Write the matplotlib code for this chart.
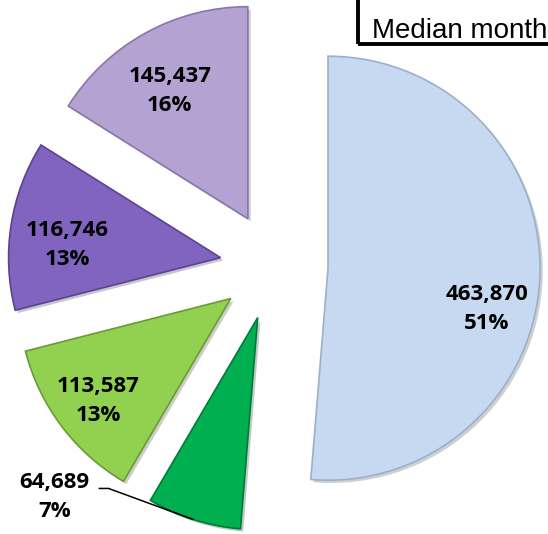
import numpy as np
import matplotlib
matplotlib.use('Agg')
import matplotlib.pyplot as plt
import matplotlib.patheffects as pe
from matplotlib.patches import Rectangle

# data
values = [463870, 64689, 113587, 116746, 145437]
colors = ['#C6D9F1', '#00B050', '#92D050', '#8064C0', '#B3A2D2']
edges = ['#9AB0CC', '#007A38', '#6A9A3A', '#5A4490', '#8877A8']
title = 'Median month'

# label placement (distance from wedge apex, angle in degrees)
lab_dist = [0.774, 1.28, 0.79, 0.727, 0.707]
lab_ang = [-14.5, 221.5, 217.6, 175.3, 121.4]

W, H = 548, 534
scale = 212.0      # pixels per pie radius
cx, cy = 274, 266  # pie centre in pixels (from top-left)

fig = plt.figure(figsize=(W / 100, H / 100), dpi=100)
ax = fig.add_axes([0, 0, 1, 1])

wedges, _ = ax.pie(values, colors=colors, startangle=90, counterclock=False,
                   explode=[0.255] * len(values), radius=1.0,
                   wedgeprops=dict(linewidth=1.2))
for w, ec in zip(wedges, edges):
    w.set_edgecolor(ec)
    w.set_path_effects([pe.SimplePatchShadow(offset=(2, -2), alpha=0.25),
                        pe.Normal()])

ax.set_xlim(-cx / scale, (W - cx) / scale)
ax.set_ylim(-(H - cy) / scale, cy / scale)
ax.axis('off')

total = sum(values)
for i, (w, v) in enumerate(zip(wedges, values)):
    c = np.array(w.center)
    a = np.deg2rad(lab_ang[i])
    pos = c + lab_dist[i] * np.array([np.cos(a), np.sin(a)])
    ax.text(pos[0], pos[1], f'{v:,}\n{v / total * 100:.0f}%', ha='center',
            va='center', fontsize=16, fontweight='bold', family='Open Sans',
            linespacing=1.5, color='black')
    if i == 1:
        mid = np.deg2rad((w.theta1 + w.theta2) / 2)
        p0 = c + 1.0 * np.array([np.cos(mid), np.sin(mid)])
        p1 = pos + np.array([0.255, 0.042])
        p2 = pos + np.array([0.208, 0.042])
        ax.plot([p0[0], p1[0], p2[0]], [p0[1], p1[1], p2[1]], color='black',
                lw=1.1, solid_capstyle='butt')

# title box, running off the top-right corner
fig.patches.append(Rectangle((358 / W, 1 - 44 / H), 0.5, 0.2, transform=fig.transFigure,
                             fill=False, edgecolor='black', lw=2.8))
fig.text(372 / W, 1 - 38 / H, title, ha='left', va='baseline', fontsize=20,
         family='Liberation Sans', color='black')

fig.savefig('out.png', dpi=100)
